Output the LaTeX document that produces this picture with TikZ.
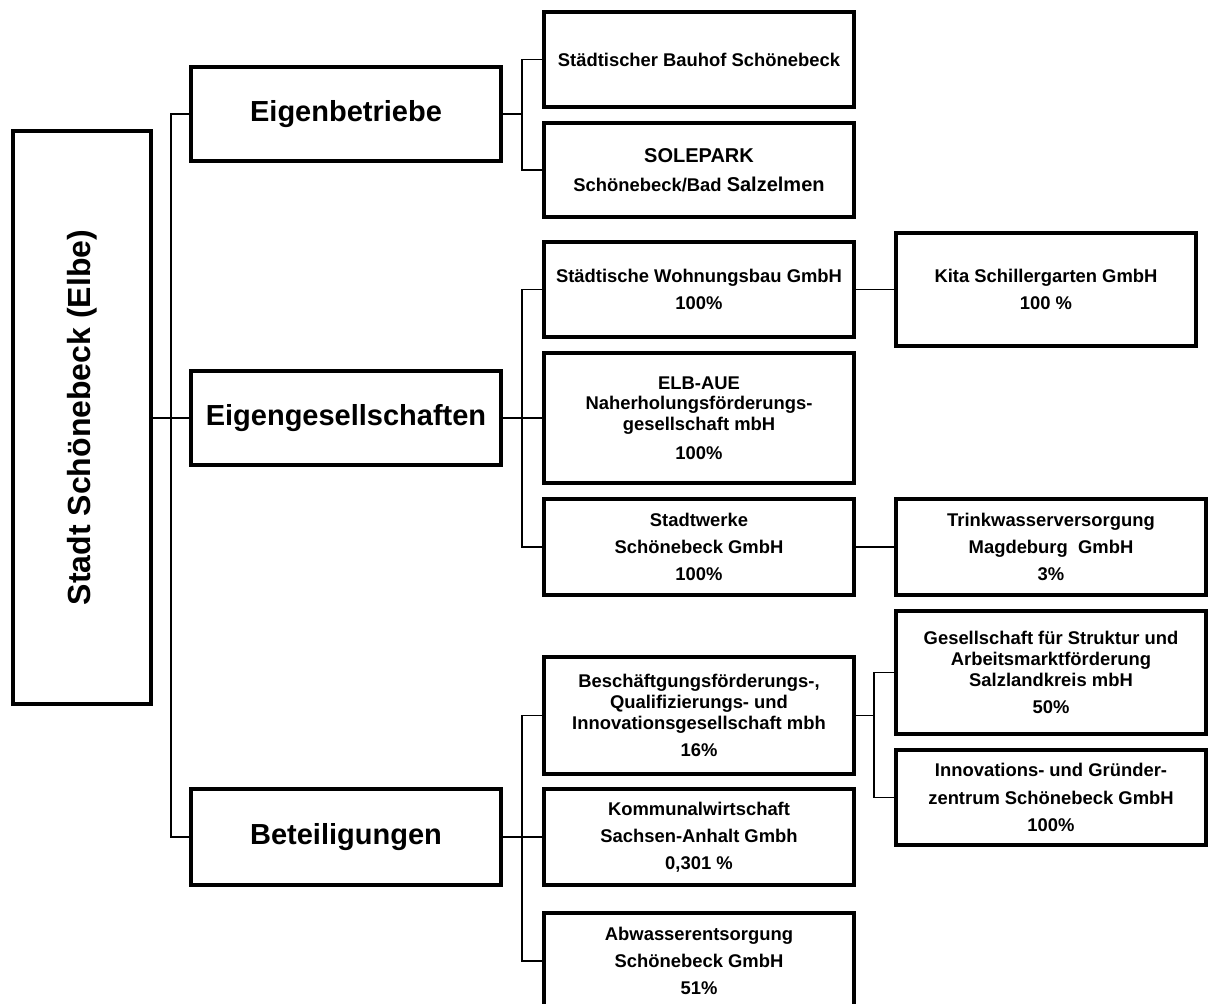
\documentclass[tikz,border=0pt]{standalone}
\usepackage{fontspec}
\setmainfont{Liberation Sans}
\usepackage{graphicx}
\begin{document}
\begin{tikzpicture}[x=0.75pt,y=-0.75pt,
  boxst/.style={draw=black, line width=3pt, fill=white, inner sep=0pt, align=center, font=\bfseries\fontsize{13.8}{15.4}\selectfont},
  headst/.style={font=\bfseries\fontsize{21.75}{25}\selectfont},
  conn/.style={draw=black, line width=1pt}]
\useasboundingbox (0,0) rectangle (1210,1003);
\clip (0,0) rectangle (1210,1003);
\fill[white] (0,0) rectangle (1210,1003);
\newcommand\mybox[7][]{\node[boxst,#1, minimum width={(#4-#2-4)*0.75pt}, minimum height={(#5-#3-4)*0.75pt}] (#6) at ({(#2+#4)/2},{(#3+#5)/2}) {#7};}
% level 0
\mybox{11}{129}{153}{706}{stadt}{\rotatebox{90}{\fontsize{24}{28}\selectfont Stadt Schönebeck (Elbe)}}
% level 1
\mybox[headst]{189}{65}{503}{163}{eb}{Eigenbetriebe}
\mybox[headst]{189}{369}{503}{467}{eg}{Eigengesellschaften}
\mybox[headst]{189}{787}{503}{887}{bt}{Beteiligungen}
% level 2
\mybox{542}{10}{856}{109}{bauhof}{Städtischer Bauhof Schönebeck}
\mybox{542}{121}{856}{219}{sole}{{\fontsize{15}{17}\selectfont SOLEPARK}\\[6pt]Schönebeck/Bad {\fontsize{15}{17}\selectfont Salzelmen}}
\mybox{542}{240}{856}{339}{wohn}{Städtische Wohnungsbau GmbH\\[5pt]100\%}
\mybox{542}{351}{856}{485}{elb}{ELB-AUE\\Naherholungsförderungs-\\gesellschaft mbH\\[6pt]100\%}
\mybox{542}{497}{856}{597}{sw}{Stadtwerke\\[5pt]Schönebeck GmbH\\[5pt]100\%}
\mybox{542}{655}{856}{776}{besch}{Beschäftgungsförderungs-,\\Qualifizierungs- und\\Innovationsgesellschaft mbh\\[5pt]16\%}
\mybox{542}{787}{856}{887}{komm}{Kommunalwirtschaft\\[5pt]Sachsen-Anhalt Gmbh\\[5pt]0,301 \%}
\mybox{542}{911}{856}{1011}{abw}{Abwasserentsorgung\\[5pt]Schönebeck GmbH\\[5pt]51\%}
% level 3
\mybox{894}{231}{1198}{348}{kita}{Kita Schillergarten GmbH\\[5pt]100 \%}
\mybox{894}{497}{1208}{597}{trink}{Trinkwasserversorgung\\[5pt]Magdeburg\ \ GmbH\\[5pt]3\%}
\mybox{894}{609}{1208}{736}{ges}{Gesellschaft für Struktur und\\Arbeitsmarktförderung\\Salzlandkreis mbH\\[5pt]50\%}
\mybox{894}{748}{1208}{847}{innov}{Innovations- und Gründer-\\[5pt]zentrum Schönebeck GmbH\\[5pt]100\%}
% junctions
\coordinate (t1) at (171,114);
\coordinate (t2) at (171,837);
\coordinate (b1) at (522,114);
\coordinate (b2) at (522,418);
\coordinate (b3) at (522,837);
\coordinate (b4) at (874,715.5);
% connectors
\draw[conn] (stadt.east |- eg.west) -- (eg.west);
\draw[conn] (eb.west) -- (t1) -- (t2) -- (bt.west);
\draw[conn] (eb.east) -- (b1);
\draw[conn] (bauhof.west) -| (b1);
\draw[conn] (sole.west) -| (b1);
\draw[conn] (eg.east) -- (elb.west);
\draw[conn] (wohn.west) -| (b2);
\draw[conn] (sw.west) -| (b2);
\draw[conn] (wohn.east) -- (kita.west);
\draw[conn] (sw.east) -- (trink.west);
\draw[conn] (bt.east) -- (komm.west);
\draw[conn] (besch.west) -| (b3);
\draw[conn] (abw.west) -| (b3);
\draw[conn] (besch.east) -- (b4);
\draw[conn] (ges.west) -| (b4);
\draw[conn] (innov.west) -| (b4);
\end{tikzpicture}
\end{document}
